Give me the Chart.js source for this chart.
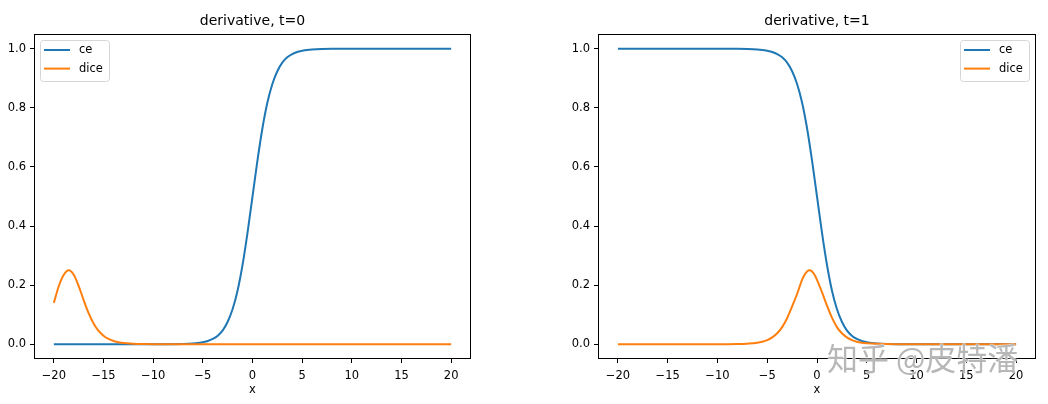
<!DOCTYPE html>
<html>
<head>
<meta charset="utf-8">
<script src="https://cdn.jsdelivr.net/npm/chart.js@4/dist/chart.umd.min.js"></script>
<style>
  html, body { margin: 0; padding: 0; background: #fff; }
  #wrap { position: relative; width: 1048px; height: 404px; overflow: hidden; }
  canvas { position: absolute; top: 0; }
  #c0 { left: 0; }
  #c1 { left: 524px; }
  #mark {
    position: absolute; left: 827px; top: 341px;
    font: 31px "Noto Sans CJK SC", sans-serif; line-height: 1;
    color: rgba(165, 165, 165, 0.8); white-space: pre;
    text-shadow: 0 0 2px #fff, 0 0 1px #fff;
  }
</style>
</head>
<body>
<div id="wrap">
  <canvas id="c0" width="520" height="404"></canvas>
  <canvas id="c1" width="524" height="404"></canvas>
  <div id="mark">知乎 @皮特潘</div>
</div>
<script>
// values
const titles = ['derivative, t=0', 'derivative, t=1'];
const seriesNames = ['ce', 'dice'];
const xTicks = [-20, -15, -10, -5, 0, 5, 10, 15, 20];
const yTicks = [0.0, 0.2, 0.4, 0.6, 0.8, 1.0];

// ce, both panels share the x positions
const xCe = [-20, -10, -8, -7, -6, -5.5, -5, -4.5, -4, -3.5, -3, -2.5, -2, -1.5, -1, -0.5,
  0, 0.5, 1, 1.5, 2, 2.5, 3, 3.5, 4, 4.5, 5, 5.5, 6, 7, 8, 10, 20];
const ceT0 = [0, 0, 0.0003, 0.001, 0.0025, 0.004, 0.007, 0.011, 0.018, 0.029, 0.047, 0.076, 0.119, 0.182, 0.269, 0.378,
  0.5, 0.622, 0.731, 0.818, 0.881, 0.924, 0.953, 0.971, 0.982, 0.989, 0.993, 0.996, 0.9975, 0.999, 0.9997, 1, 1];
const ceT1 = [1, 1, 0.9997, 0.999, 0.9975, 0.996, 0.993, 0.989, 0.982, 0.971, 0.953, 0.924, 0.881, 0.818, 0.731, 0.622,
  0.5, 0.378, 0.269, 0.182, 0.119, 0.076, 0.047, 0.029, 0.018, 0.011, 0.007, 0.004, 0.0025, 0.001, 0.0003, 0, 0];

// dice, t=0
const xDiceT0 = [-20, -19.5, -19, -18.5, -18, -17.5, -17, -16.5, -16, -15.5, -15, -14.5, -14, -13.5, -13, -12, -11, -10, 20];
const diceT0 = [0.14, 0.197, 0.235, 0.25, 0.235, 0.197, 0.149, 0.105, 0.07, 0.045, 0.029, 0.018, 0.011, 0.007, 0.004, 0.0015, 0.0005, 0, 0];

// dice, t=1
const xDiceT1 = [-20, -10, -8, -7, -6, -5.5, -5, -4.5, -4, -3.5, -3, -2.5, -2, -1.5, -1.25, -1, -0.75, -0.5, -0.25,
  0, 0.5, 1, 1.5, 2, 2.5, 3, 3.5, 4, 4.5, 5, 6, 8, 20];
const diceT1 = [0, 0, 0.0007, 0.002, 0.005, 0.0085, 0.014, 0.023, 0.037, 0.058, 0.088, 0.128, 0.17, 0.218, 0.235, 0.246, 0.25, 0.246, 0.235,
  0.218, 0.176, 0.131, 0.09, 0.058, 0.037, 0.023, 0.014, 0.0085, 0.005, 0.003, 0.0012, 0.0002, 0];

const colors = ['#1f77b4', '#ff7f0e'];

Chart.defaults.font.family = '"DejaVu Sans", sans-serif';
Chart.defaults.color = '#000';

const pts = (xs, ys) => xs.map((x, i) => ({ x, y: ys[i] }));
const minus = v => (v < 0 ? '\u2212' + Math.abs(v) : String(v));

// matplotlib-ish frame, title and legend
const decor = {
  id: 'decor',
  afterDraw(chart, args, opts) {
    const { ctx, chartArea: a } = chart;
    ctx.save();
    ctx.strokeStyle = '#000';
    ctx.lineWidth = 1;
    ctx.strokeRect(Math.round(a.left) + 0.5, Math.round(a.top) + 0.5,
      Math.round(a.right - a.left) - 1, Math.round(a.bottom - a.top) - 1);

    ctx.fillStyle = '#000';
    ctx.font = '14px "DejaVu Sans"';
    ctx.textAlign = 'center';
    ctx.textBaseline = 'middle';
    ctx.fillText(opts.title, (a.left + a.right) / 2, 21);

    const w = 69, h = 41;
    const bx = opts.legendRight ? a.right - 7 - w : a.left + 6;
    const by = a.top + 6;
    ctx.beginPath();
    ctx.roundRect(bx + 0.5, by + 0.5, w, h, 3);
    ctx.fillStyle = 'rgba(255,255,255,0.8)';
    ctx.fill();
    ctx.strokeStyle = '#d6d6d6';
    ctx.stroke();
    ctx.font = '11.5px "DejaVu Sans"';
    ctx.textAlign = 'left';
    seriesNames.forEach((name, i) => {
      const y = by + 10 + i * 18.6;
      ctx.beginPath();
      ctx.moveTo(bx + 4, y);
      ctx.lineTo(bx + 30, y);
      ctx.strokeStyle = colors[i];
      ctx.lineWidth = 2;
      ctx.stroke();
      ctx.fillStyle = '#000';
      ctx.fillText(name, bx + 39, y);
    });
    ctx.restore();
  }
};

function makeChart(id, title, ce, xDice, dice, yAxisW, padRight, legendRight) {
  return new Chart(document.getElementById(id), {
    type: 'line',
    data: {
      datasets: [
        { label: seriesNames[0], data: pts(xCe, ce), borderColor: colors[0], order: 1 },
        { label: seriesNames[1], data: pts(xDice, dice), borderColor: colors[1], order: 0 }
      ]
    },
    options: {
      responsive: false,
      animation: false,
      devicePixelRatio: 1,
      layout: { padding: { top: 34, right: padRight, bottom: 0, left: 0 } },
      elements: {
        point: { radius: 0 },
        line: { borderWidth: 2, cubicInterpolationMode: 'monotone', fill: false }
      },
      plugins: {
        legend: { display: false },
        tooltip: { enabled: false },
        decor: { title, legendRight }
      },
      scales: {
        x: {
          type: 'linear', min: -22, max: 22,
          afterBuildTicks: s => { s.ticks = xTicks.map(v => ({ value: v })); },
          afterFit: s => { s.height = 45; },
          border: { display: false },
          grid: { drawOnChartArea: false, drawTicks: true, tickLength: 4, tickColor: '#000', color: '#000' },
          ticks: { autoSkip: false, maxRotation: 0, padding: 6, font: { size: 11.5 }, callback: v => minus(v) },
          title: { display: true, text: 'x', font: { size: 11.5 }, padding: { top: 0, bottom: 7 } }
        },
        y: {
          type: 'linear', min: -0.05, max: 1.05,
          afterBuildTicks: s => { s.ticks = yTicks.map(v => ({ value: v })); },
          afterFit: s => { s.width = yAxisW; },
          border: { display: false },
          grid: { drawOnChartArea: false, drawTicks: true, tickLength: 4, tickColor: '#000', color: '#000' },
          ticks: { autoSkip: false, padding: 4, font: { size: 11.5 }, callback: v => v.toFixed(1) }
        }
      }
    },
    plugins: [decor]
  });
}

makeChart('c0', titles[0], ceT0, xDiceT0, diceT0, 34, 49, false);
makeChart('c1', titles[1], ceT1, xDiceT1, diceT1, 74, 12, true);
</script>
</body>
</html>
